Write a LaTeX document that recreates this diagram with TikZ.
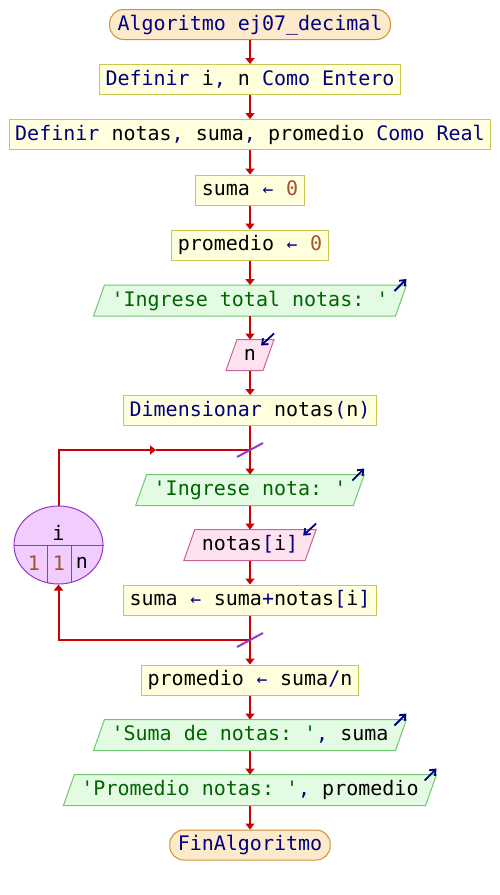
\documentclass[tikz,border=0pt]{standalone}
\usepackage{fontspec}
\setmonofont{DejaVu Sans Mono}
\usetikzlibrary{shapes.geometric,arrows.meta,calc}

\definecolor{kwblue}{HTML}{000080}
\definecolor{strgreen}{HTML}{006400}
\definecolor{numbrown}{HTML}{A0522D}
\definecolor{flowred}{HTML}{CC0000}
\definecolor{termfill}{HTML}{FDEACB}
\definecolor{termdraw}{HTML}{D09035}
\definecolor{procfill}{HTML}{FFFFDD}
\definecolor{procdraw}{HTML}{C8C850}
\definecolor{outfill}{HTML}{E2FBE2}
\definecolor{outdraw}{HTML}{70C870}
\definecolor{infill}{HTML}{FFE2F0}
\definecolor{indraw}{HTML}{C86496}
\definecolor{loopfill}{HTML}{F0CCFF}
\definecolor{loopdraw}{HTML}{9438C8}

\pgfdeclarelayer{background}
\pgfdeclarelayer{shapes}
\pgfsetlayers{background,shapes,main}

% syntax colouring helpers
\newcommand\kw[1]{\textcolor{kwblue}{#1}}
\newcommand\strg[1]{\textcolor{strgreen}{#1}}
\newcommand\numv[1]{\textcolor{numbrown}{#1}}
\newcommand\asg{\makebox[12.04pt]{\fontsize{18}{18}\selectfont\textcolor{kwblue}{←}}}

\tikzset{
  base/.style={font=\ttfamily\fontsize{20}{24}\selectfont, minimum height=30pt,
    inner ysep=0pt, text height=15pt, text depth=4pt, line width=1pt},
  term/.style={base, rectangle, rounded corners=14pt, fill=termfill, draw=termdraw,
    inner xsep=8pt, text=kwblue},
  proc/.style={base, rectangle, fill=procfill, draw=procdraw, inner xsep=6pt},
  para/.style={base, rectangle, inner xsep=12pt},
  outp/.style={para},
  inp/.style={para},
  flow/.style={draw=flowred, line width=2pt, -{Triangle[width=9pt,length=6pt]}},
  wire/.style={draw=flowred, line width=2pt},
  outmark/.style={draw=kwblue, line width=1.8pt, -{Straight Barb[length=5pt,width=8pt]}},
  inmark/.style={draw=kwblue, line width=1.8pt, -{Straight Barb[length=5pt,width=8pt]}},
  joinmark/.style={draw=loopdraw, line width=2pt},
}

\begin{document}
\begin{tikzpicture}[x=1pt,y=-1pt]
\begin{pgfonlayer}{background}
  \fill[white] (0,0) rectangle (500,895);
\end{pgfonlayer}
\useasboundingbox (0,0) rectangle (500,895);

% main sequence
\node[term] (start) at (250,24.5) {Algoritmo ej07\_decimal};
\node[proc] (def1) at (250,79.5) {\kw{Definir} i\kw{,} n \kw{Como Entero}};
\node[proc] (def2) at (250,134.5) {\kw{Definir} notas\kw{,} suma\kw{,} promedio \kw{Como Real}};
\node[proc] (s0) at (250,190) {suma \asg{} \numv{0}};
\node[proc] (p0) at (250,245) {promedio \asg{} \numv{0}};
\node[outp] (o1) at (250,300.5) {\strg{'Ingrese total notas: '}};
\node[inp] (in1) at (250,355) {n};
\node[proc] (dim) at (250,410.5) {\kw{Dimensionar} notas\kw{(}n\kw{)}};
\node[outp] (o2) at (250,490) {\strg{'Ingrese nota: '}};
\node[inp] (in2) at (250,545) {notas\kw{[}i\kw{]}};
\node[proc] (sum) at (250,600) {suma \asg{} suma\kw{+}notas\kw{[}i\kw{]}};
\node[proc] (prom) at (250,680) {promedio \asg{} suma\kw{/}n};
\node[outp] (o3) at (250,735) {\strg{'Suma de notas: '}\kw{,} suma};
\node[outp] (o4) at (250,790) {\strg{'Promedio notas: '}\kw{,} promedio};
\node[term] (fin) at (250,845) {FinAlgoritmo};

% slanted outlines of the input/output nodes
\begin{pgfonlayer}{shapes}
  \foreach \n/\f/\d in {o1/outfill/outdraw, o2/outfill/outdraw, o3/outfill/outdraw,
                        o4/outfill/outdraw, in1/infill/indraw, in2/infill/indraw}
    \filldraw[fill=\f, draw=\d, line width=1pt]
      ($(\n.south west)+(-5.5,0)$) -- ($(\n.south east)+(-5.5,0)$)
      -- ($(\n.north east)+(5.5,0)$) -- ($(\n.north west)+(5.5,0)$) -- cycle;
\end{pgfonlayer}

% for-loop header
\node[ellipse, minimum width=89pt, minimum height=78pt, inner sep=0pt,
      fill=loopfill, draw=loopdraw, line width=1pt] (loop) at (58.5,545) {};
\draw[loopdraw, line width=1pt] (loop.west) -- (loop.east)
  (47,545) -- (47,582.7) (71,545) -- (71,582.4);
\begin{scope}[font=\ttfamily\fontsize{20}{24}\selectfont]
  \node (lv) at (58.5,533) {i};
  \node (lfrom) at (34,563) {\numv{1}};
  \node (lstep) at (59,563) {\numv{1}};
  \node (lto) at (82,563) {n};
\end{scope}

% loop junctions
\coordinate (jt) at (250,450);
\coordinate (jb) at (250,640);
\coordinate (mid) at (156,450);

% connectors
\draw[flow] (start) -- (def1);
\draw[flow] (def1) -- (def2);
\draw[flow] (def2) -- (s0);
\draw[flow] (s0) -- (p0);
\draw[flow] (p0) -- (o1);
\draw[flow] (o1) -- (in1);
\draw[flow] (in1) -- (dim);
\draw[wire] (dim) -- (jt);
\draw[flow] (jt) -- (o2);
\draw[flow] (o2) -- (in2);
\draw[flow] (in2) -- (sum);
\draw[wire] (sum) -- (jb);
\draw[flow] (jb) -| (loop.south);
\draw[flow] (loop.north) |- (mid);
\draw[wire] (mid) -- (jt);
\draw[flow] (jb) -- (prom);
\draw[flow] (prom) -- (o3);
\draw[flow] (o3) -- (o4);
\draw[flow] (o4) -- (fin);

% loop entry/exit ticks
\draw[joinmark] ($(jt)+(-13,7)$) -- ($(jt)+(13,-7)$);
\draw[joinmark] ($(jb)+(-13,7)$) -- ($(jb)+(13,-7)$);

% input/output markers
\foreach \o in {o1,o2,o3,o4}
  \draw[outmark] ($(\o.north east)+(5.5,0)+(-12,6)$) -- ++(12,-12);
\foreach \i in {in1,in2}
  \draw[inmark] ($(\i.north east)+(5.5,0)+(0,-6)$) -- ++(-13,12);
\end{tikzpicture}
\end{document}
